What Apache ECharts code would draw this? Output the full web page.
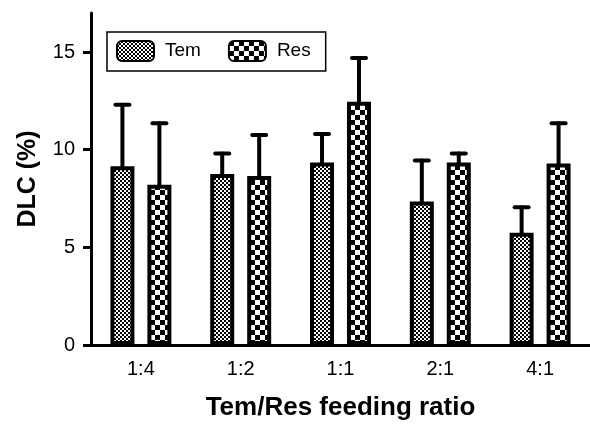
<!DOCTYPE html>
<html>
<head>
<meta charset="utf-8">
<script src="https://cdn.jsdelivr.net/npm/echarts@6/dist/echarts.min.js"></script>
<style>
  html, body { margin: 0; padding: 0; background: #fff; }
  #chart { width: 590px; height: 426px; }
</style>
</head>
<body>
<div id="chart"></div>
<script>
// data
const ratios   = ['1:4', '1:2', '1:1', '2:1', '4:1'];
const temMean  = [9.15, 8.75, 9.35, 7.35, 5.75];
const temSD    = [3.15, 1.05, 1.45, 2.10, 1.30];
const resMean  = [8.20, 8.65, 12.45, 9.35, 9.30];
const resSD    = [3.15, 2.10, 2.25, 0.45, 2.05];
const yTicks   = [0, 5, 10, 15];

const FONT = 'Liberation Sans, Arial, sans-serif';
const BAR_W = 24, BORDER = 4, GAP = 0.54;
const OFFSET = (BAR_W + BAR_W * GAP) / 2;

function makePattern(cell, period, bg, fg) {
  const c = document.createElement('canvas');
  c.width = period; c.height = period;
  const g = c.getContext('2d');
  g.fillStyle = bg; g.fillRect(0, 0, period, period);
  g.fillStyle = fg;
  g.fillRect(0, 0, cell, cell);
  g.fillRect(period / 2, period / 2, cell, cell);
  return { image: c, repeat: 'repeat' };
}
const temFill = makePattern(2, 4, '#fff', '#000');
const resFill = makePattern(5, 10, '#fff', '#000');

function errSeries(name, mean, sd, dx) {
  return {
    type: 'custom',
    name: name + ' err',
    z: 1,
    silent: true,
    data: mean.map((m, i) => [i, m, m + sd[i]]),
    encode: { x: 0, y: [1, 2] },
    renderItem: (params, api) => {
      const lo = api.coord([api.value(0), api.value(1)]);
      const hi = api.coord([api.value(0), api.value(2)]);
      const x = lo[0] + dx;
      const st = { stroke: '#000', lineWidth: 4, lineCap: 'round' };
      return {
        type: 'group',
        children: [
          { type: 'line', shape: { x1: x, y1: lo[1], x2: x, y2: hi[1] }, style: st },
          { type: 'line', shape: { x1: x - 7, y1: hi[1], x2: x + 7, y2: hi[1] }, style: st }
        ]
      };
    }
  };
}

const chart = echarts.init(document.getElementById('chart'), null, { renderer: 'canvas' });
chart.setOption({
  animation: false,
  backgroundColor: '#fff',
  grid: { left: 91, right: -1, top: 13, bottom: 79 },
  legend: {
    data: ['Tem', 'Res'],
    left: 107, top: 32,
    padding: [8, 15, 9, 9],
    itemWidth: 37, itemHeight: 20,
    itemGap: 27,
    borderColor: '#000', borderWidth: 1.5,
    icon: 'roundRect',
    textStyle: { fontFamily: FONT, fontSize: 19, color: '#000', padding: [0, 0, 0, 6] }
  },
  xAxis: {
    type: 'category',
    data: ratios,
    name: 'Tem/Res feeding ratio',
    nameLocation: 'middle',
    nameGap: 50,
    nameTextStyle: { fontFamily: FONT, fontSize: 26, fontWeight: 'bold', color: '#000' },
    axisLine: { lineStyle: { color: '#000', width: 3 } },
    axisTick: { alignWithLabel: true, length: 8, lineStyle: { color: '#000', width: 3 } },
    axisLabel: { fontFamily: FONT, fontSize: 20, color: '#000', margin: 14 }
  },
  yAxis: {
    type: 'value',
    min: 0, max: 17,
    name: 'DLC (%)',
    nameLocation: 'middle',
    nameGap: 50,
    nameTextStyle: { fontFamily: FONT, fontSize: 25, fontWeight: 'bold', color: '#000' },
    axisLine: { show: true, lineStyle: { color: '#000', width: 3 } },
    axisTick: { show: true, length: 8, customValues: yTicks, lineStyle: { color: '#000', width: 3 } },
    axisLabel: { fontFamily: FONT, fontSize: 20, color: '#000', margin: 16, customValues: yTicks },
    splitLine: { show: false }
  },
  series: [
    {
      name: 'Tem', type: 'bar', data: temMean, z: 2,
      barWidth: BAR_W, barGap: (GAP * 100) + '%',
      itemStyle: { color: temFill, borderColor: '#000', borderWidth: BORDER }
    },
    {
      name: 'Res', type: 'bar', data: resMean, z: 2,
      barWidth: BAR_W,
      itemStyle: { color: resFill, borderColor: '#000', borderWidth: BORDER }
    },
    errSeries('Tem', temMean, temSD, -OFFSET),
    errSeries('Res', resMean, resSD, OFFSET)
  ]
});
</script>
</body>
</html>
